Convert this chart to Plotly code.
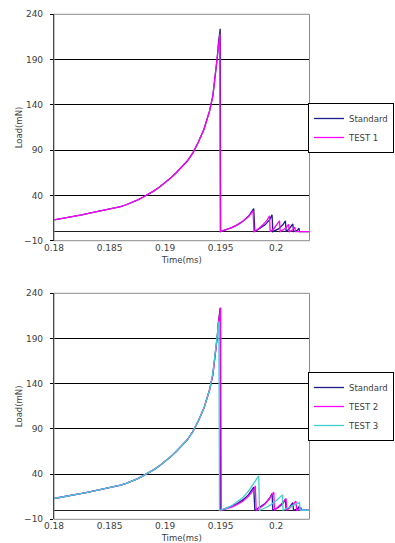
import plotly.graph_objects as go

# ---- data: time (ms) and load (mN) for each run ----
# common loading ramp before the first fracture (read at 0.0005 ms steps)
t_ramp = [0.1800, 0.1805, 0.1810, 0.1815, 0.1820, 0.1825, 0.1830, 0.1835, 0.1840, 0.1845,
          0.1850, 0.1855, 0.1860, 0.1865, 0.1870, 0.1875, 0.1880, 0.1885, 0.1890, 0.1895,
          0.1900, 0.1905, 0.1910, 0.1915, 0.1920, 0.1925, 0.1930, 0.1935, 0.1940]
load_ramp = [13, 14, 15, 16.2, 17.4, 18.6, 19.9, 21.2, 22.6, 23.6,
             24.6, 26, 27.7, 29.7, 32, 34.8, 38, 41.3, 45, 49.3,
             54, 59.3, 65, 71.3, 78, 87, 99, 113, 133]

t_standard = t_ramp + [0.1943, 0.1945, 0.1947, 0.1948, 0.19496, 0.19500,
                       0.1955, 0.1960, 0.1965, 0.1970, 0.1975, 0.19798, 0.19808,
                       0.1985, 0.1990, 0.1994, 0.19963, 0.19970,
                       0.2002, 0.2006, 0.20083, 0.20090,
                       0.2012, 0.20150, 0.20156,
                       0.2019, 0.20205, 0.20210, 0.2035]
load_standard = load_ramp + [150, 170, 192, 208, 224, 0,
                             2, 4.5, 7.5, 11.5, 17, 25.5, 0,
                             3, 7.5, 13, 18.5, 0,
                             3, 7.5, 12, 0,
                             3.5, 8.5, 0,
                             1.5, 4, 0, 0]

t_test1 = t_ramp + [0.1943, 0.1945, 0.1947, 0.1948, 0.19493, 0.19497,
                    0.1955, 0.1960, 0.1965, 0.1970, 0.1975, 0.19792, 0.19800,
                    0.1984, 0.1988, 0.1992, 0.19940, 0.19946,
                    0.1998, 0.2001, 0.20030, 0.20036,
                    0.2008, 0.20112, 0.20118,
                    0.2015, 0.20168, 0.20174, 0.2035]
load_test1 = load_ramp + [150, 170, 191, 206, 218.5, 0,
                          2, 4.5, 7.5, 11.5, 16.5, 23, 0,
                          3, 7.5, 13, 17.5, 0,
                          3.5, 8, 12, 0,
                          3.5, 8, 0,
                          2, 5, 0, 0]

t_test2 = t_ramp + [0.1943, 0.1945, 0.1947, 0.1948, 0.19500, 0.19505,
                    0.1955, 0.1960, 0.1965, 0.1970, 0.1975, 0.1980, 0.19812, 0.19820,
                    0.1986, 0.1990, 0.1994, 0.19978, 0.19985,
                    0.2002, 0.2006, 0.20089, 0.20095,
                    0.2013, 0.20178, 0.20185,
                    0.2021, 0.20225, 0.20230, 0.2035]
load_test2 = load_ramp + [150, 170, 192, 207, 224, 0,
                          1.5, 3.5, 6.5, 10, 15.5, 23, 27, 0,
                          3, 7, 13, 20, 0,
                          3.5, 8.5, 13, 0,
                          3.5, 10, 0,
                          1, 3, 0, 0]

t_test3 = t_ramp + [0.1943, 0.1945, 0.1947, 0.19484, 0.19490,
                    0.1955, 0.1960, 0.1965, 0.1970, 0.1975, 0.1980, 0.19843, 0.19850,
                    0.1990, 0.1995, 0.2000, 0.20056, 0.20062,
                    0.2010, 0.2015, 0.20210, 0.20216, 0.2035]
load_test3 = load_ramp + [152, 173, 195, 209, 0,
                          2, 5, 9, 14, 21, 29.5, 38, 0,
                          2.5, 6, 10.5, 17, 0,
                          2.5, 5, 8.5, 0, 0]

y_ticks = [-10, 40, 90, 140, 190, 240]
x_ticks = [0.18, 0.185, 0.19, 0.195, 0.2]
x_tick_text = ["0.18", "0.185", "0.19", "0.195", "0.2"]

NAVY = "#1c1c8a"
MAGENTA = "#ff00ff"
CYAN = "#3fcfcf"
FONT = "DejaVu Sans"
TXT = "#404040"

fig = go.Figure()

# upper panel
fig.add_trace(go.Scatter(x=t_standard, y=load_standard, name="Standard", mode="lines",
                         line=dict(color=NAVY, width=1.3), xaxis="x", yaxis="y", legend="legend"))
fig.add_trace(go.Scatter(x=t_test1, y=load_test1, name="TEST 1", mode="lines",
                         line=dict(color=MAGENTA, width=1.3), xaxis="x", yaxis="y", legend="legend"))
# lower panel
fig.add_trace(go.Scatter(x=t_standard, y=load_standard, name="Standard", mode="lines",
                         line=dict(color=NAVY, width=1.3), xaxis="x2", yaxis="y2", legend="legend2"))
fig.add_trace(go.Scatter(x=t_test2, y=load_test2, name="TEST 2", mode="lines",
                         line=dict(color=MAGENTA, width=1.3), xaxis="x2", yaxis="y2", legend="legend2"))
fig.add_trace(go.Scatter(x=t_test3, y=load_test3, name="TEST 3", mode="lines",
                         line=dict(color=CYAN, width=1.3), xaxis="x2", yaxis="y2", legend="legend2"))

W, H = 395, 543
X_DOM = [54 / W, 309.5 / W]
Y_DOM_TOP = [1 - 240.7 / H, 1 - 14.3 / H]
Y_DOM_BOT = [1 - 519.3 / H, 1 - 293.3 / H]
X_RANGE = [0.18, 0.2030]
Y_RANGE = [-10, 240]


def xaxis_style(anchor):
    return dict(domain=X_DOM, range=X_RANGE, anchor=anchor, tickvals=x_ticks, ticktext=x_tick_text,
                showgrid=False, zeroline=False, showline=False, ticks="", automargin=False,
                tickfont=dict(family=FONT, size=9, color=TXT),
                title=dict(text="Time(ms)", font=dict(family=FONT, size=8.5, color=TXT), standoff=5))


def yaxis_style(anchor, dom):
    return dict(domain=dom, range=Y_RANGE, anchor=anchor, tickvals=y_ticks,
                showgrid=True, gridcolor="#000000", gridwidth=1,
                zeroline=True, zerolinecolor="#202020", zerolinewidth=1,
                showline=True, linecolor="#000000", linewidth=1.2,
                ticks="outside", ticklen=3, tickcolor="#000000", ticklabelstandoff=5,
                automargin=False,
                tickfont=dict(family=FONT, size=9, color=TXT),
                title=dict(text="Load(mN)", font=dict(family=FONT, size=8.5, color=TXT), standoff=0))


def zero_ticks(over, ypos):
    # short tick marks sitting on the zero line
    return dict(overlaying=over, anchor="free", position=ypos, range=X_RANGE, domain=X_DOM,
                tickvals=x_ticks[1:], showticklabels=False, ticks="inside", ticklen=3,
                tickwidth=1.2, tickcolor="#000000", showgrid=False, zeroline=False, showline=False)


legend_common = dict(xanchor="right", x=394 / W, yanchor="middle", bgcolor="#ffffff",
                     bordercolor="#000000", borderwidth=1, tracegroupgap=0,
                     font=dict(family=FONT, size=8.5, color=TXT))

fig.update_layout(
    width=W, height=H,
    margin=dict(l=0, r=0, t=0, b=0),
    paper_bgcolor="#ffffff", plot_bgcolor="#ffffff",
    showlegend=True,
    xaxis=xaxis_style("y"),
    yaxis=yaxis_style("x", Y_DOM_TOP),
    xaxis2=xaxis_style("y2"),
    yaxis2=yaxis_style("x2", Y_DOM_BOT),
    xaxis3=zero_ticks("x", 1 - 232.3 / H),
    xaxis4=zero_ticks("x2", 1 - 511 / H),
    legend=dict(y=1 - 128 / H, **legend_common),
    legend2=dict(y=1 - 406.5 / H, **legend_common),
    shapes=[
        dict(type="rect", xref="paper", yref="paper", x0=X_DOM[0], x1=X_DOM[1],
             y0=Y_DOM_TOP[0], y1=Y_DOM_TOP[1], line=dict(color="#8c8c8c", width=1), layer="above"),
        dict(type="rect", xref="paper", yref="paper", x0=X_DOM[0], x1=X_DOM[1],
             y0=Y_DOM_BOT[0], y1=Y_DOM_BOT[1], line=dict(color="#8c8c8c", width=1), layer="above"),
    ],
)

fig.write_html("out.html")
